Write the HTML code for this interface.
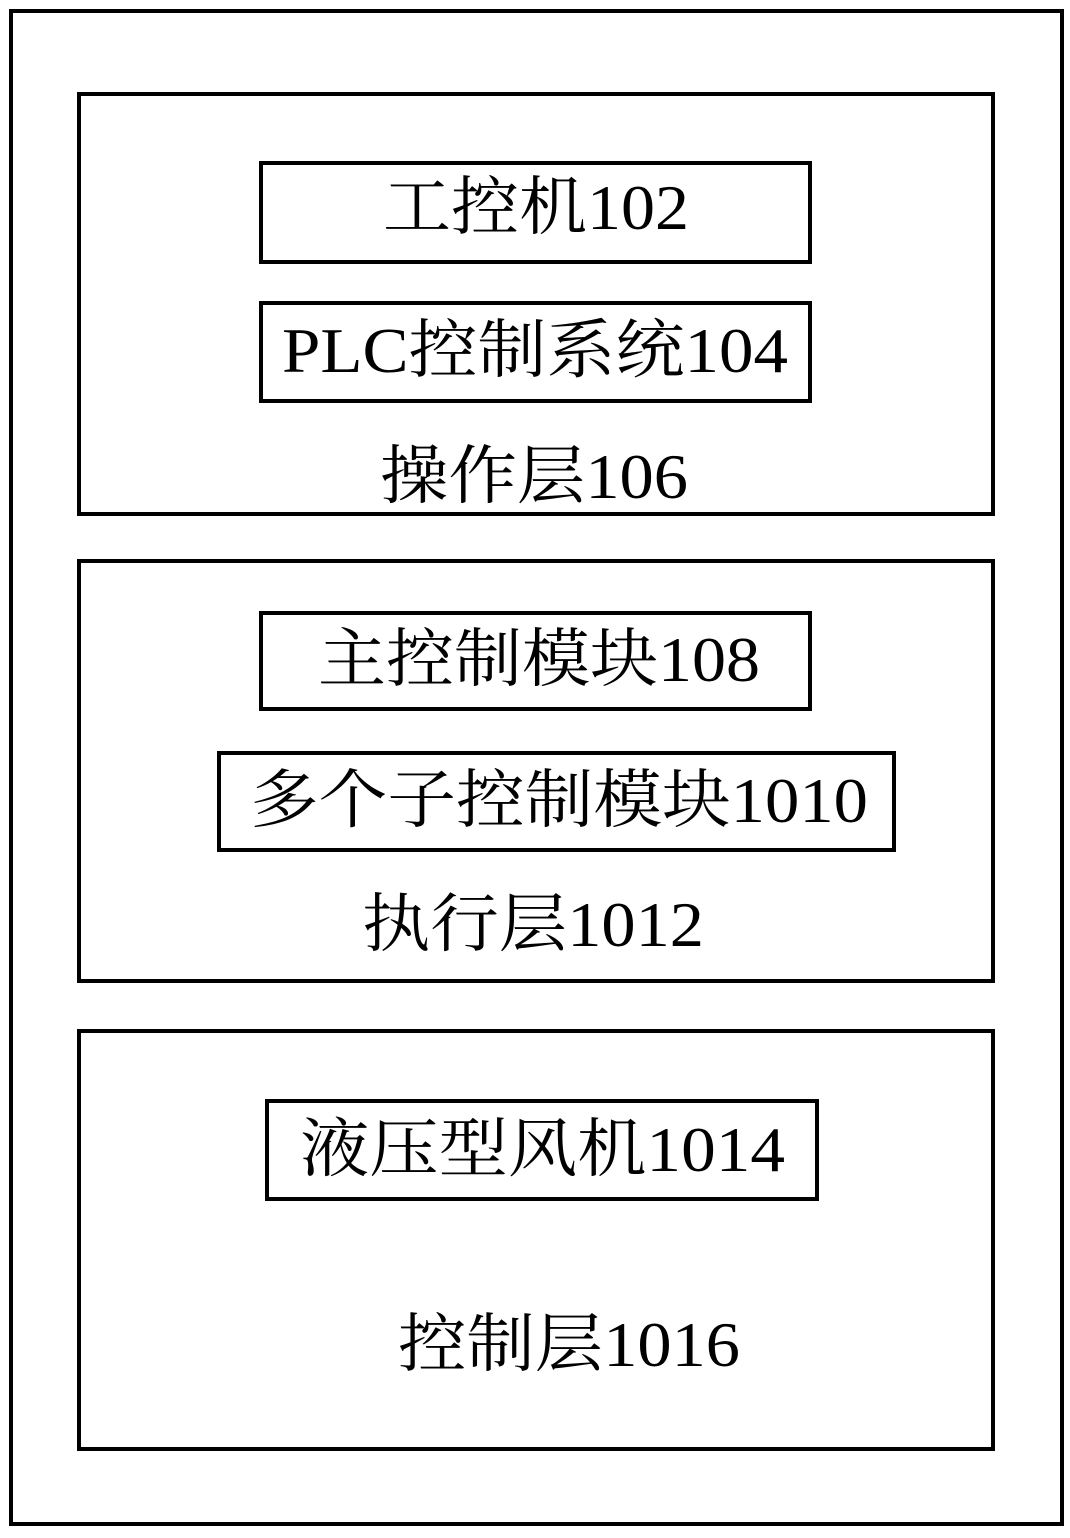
<!DOCTYPE html>
<html><head><meta charset="utf-8"><style>
body{margin:0;background:#fff}
svg text{font-family:"Liberation Serif","Noto Serif CJK SC",serif;font-size:64px;fill:#000}
</style></head><body>
<svg width="1070" height="1533" viewBox="0 0 1070 1533">
<g fill="none" stroke="#000" stroke-width="4">
<rect x="11" y="11" width="1051" height="1513"/>
<rect x="79" y="94" width="914" height="420"/>
<rect x="79" y="561" width="914" height="420"/>
<rect x="79" y="1031" width="914" height="418"/>
<rect x="261" y="163" width="549" height="99"/>
<rect x="261" y="303" width="549" height="98"/>
<rect x="261" y="613" width="549" height="96"/>
<rect x="219" y="753" width="675" height="97"/>
<rect x="267" y="1101" width="550" height="98"/>
</g>
<text x="383" y="229" textLength="306" lengthAdjust="spacingAndGlyphs">工控机102</text>
<text x="282" y="372" textLength="506" lengthAdjust="spacingAndGlyphs">PLC控制系统104</text>
<text x="380" y="498" textLength="308" lengthAdjust="spacingAndGlyphs">操作层106</text>
<text x="318" y="681" textLength="442" lengthAdjust="spacingAndGlyphs">主控制模块108</text>
<text x="250" y="822" textLength="618" lengthAdjust="spacingAndGlyphs">多个子控制模块1010</text>
<text x="362" y="946" textLength="342" lengthAdjust="spacingAndGlyphs">执行层1012</text>
<text x="300" y="1171" textLength="485" lengthAdjust="spacingAndGlyphs">液压型风机1014</text>
<text x="398" y="1366" textLength="342" lengthAdjust="spacingAndGlyphs">控制层1016</text>
</svg>
</body></html>
